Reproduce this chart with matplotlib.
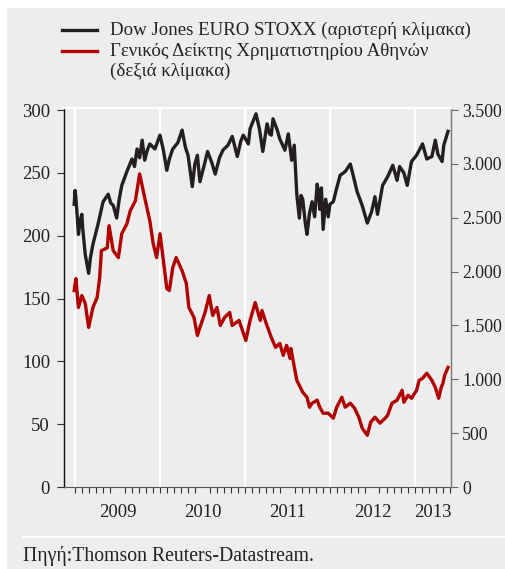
import matplotlib.pyplot as plt
from matplotlib.lines import Line2D
from matplotlib.patches import Rectangle

plt.rcParams['font.family'] = ['Liberation Serif', 'DejaVu Serif']

# Dow Jones EURO STOXX (left scale), dates as decimal years
stoxx_t = [2008.99, 2009.00, 2009.01, 2009.03, 2009.04, 2009.06, 2009.08, 2009.09, 2009.12,
           2009.16, 2009.18, 2009.21, 2009.27, 2009.30, 2009.33, 2009.39, 2009.42, 2009.45,
           2009.49, 2009.52, 2009.55, 2009.61, 2009.67, 2009.70, 2009.73, 2009.76, 2009.79,
           2009.82, 2009.85, 2009.88, 2009.94, 2010.00, 2010.04, 2010.08, 2010.11, 2010.15,
           2010.21, 2010.26, 2010.30, 2010.33, 2010.38, 2010.41, 2010.44, 2010.47, 2010.52,
           2010.56, 2010.61, 2010.65, 2010.70, 2010.74, 2010.80, 2010.85, 2010.91, 2010.95,
           2010.98, 2011.04, 2011.06, 2011.13, 2011.17, 2011.21, 2011.26, 2011.29, 2011.31,
           2011.33, 2011.38, 2011.41, 2011.47, 2011.51, 2011.55, 2011.58, 2011.61, 2011.64,
           2011.66, 2011.68, 2011.71, 2011.73, 2011.76, 2011.79, 2011.82, 2011.85, 2011.87,
           2011.88, 2011.90, 2011.92, 2011.95, 2011.98, 2012.00, 2012.04, 2012.08, 2012.12,
           2012.18, 2012.24, 2012.27, 2012.32, 2012.38, 2012.44, 2012.49, 2012.53, 2012.56,
           2012.62, 2012.68, 2012.74, 2012.79, 2012.82, 2012.87, 2012.91, 2012.96, 2013.02,
           2013.09, 2013.14, 2013.20, 2013.24, 2013.27, 2013.32, 2013.34, 2013.39]
stoxx = [225, 236, 230, 211, 201, 212, 217, 206, 185,
         170, 182, 193, 209, 218, 227, 233, 226, 224,
         214, 229, 240, 251, 261, 255, 269, 262, 276,
         260, 268, 273, 269, 280, 268, 252, 261, 269,
         274, 284, 270, 264, 239, 257, 264, 243, 256,
         267, 258, 249, 262, 268, 272, 279, 263, 275,
         280, 273, 285, 297, 285, 267, 289, 281, 280,
         293, 284, 277, 268, 281, 260, 272, 233, 214,
         232, 229, 210, 201, 218, 227, 215, 241, 232,
         221, 238, 205, 229, 215, 225, 227, 238, 248,
         251, 257, 249, 235, 224, 210, 219, 231, 217,
         240, 247, 256, 244, 255, 250, 240, 259, 264,
         273, 261, 263, 276, 265, 259, 272, 283]

# Athens General Index (right scale)
athex_t = [2008.99, 2009.01, 2009.04, 2009.08, 2009.12, 2009.16, 2009.21, 2009.26, 2009.29,
           2009.31, 2009.38, 2009.40, 2009.45, 2009.51, 2009.55, 2009.61, 2009.65, 2009.71,
           2009.76, 2009.82, 2009.88, 2009.92, 2009.96, 2010.00, 2010.04, 2010.08, 2010.11,
           2010.15, 2010.19, 2010.26, 2010.31, 2010.34, 2010.40, 2010.44, 2010.47, 2010.53,
           2010.58, 2010.62, 2010.67, 2010.71, 2010.76, 2010.82, 2010.85, 2010.93, 2011.01,
           2011.06, 2011.12, 2011.18, 2011.20, 2011.25, 2011.31, 2011.36, 2011.41, 2011.45,
           2011.49, 2011.53, 2011.54, 2011.61, 2011.68, 2011.73, 2011.76, 2011.79, 2011.85,
           2011.88, 2011.92, 2011.98, 2012.04, 2012.08, 2012.14, 2012.18, 2012.24, 2012.29,
           2012.34, 2012.38, 2012.44, 2012.48, 2012.53, 2012.59, 2012.65, 2012.68, 2012.73,
           2012.79, 2012.85, 2012.87, 2012.92, 2012.96, 2013.02, 2013.05, 2013.09, 2013.14,
           2013.20, 2013.24, 2013.28, 2013.31, 2013.33, 2013.35, 2013.39]
athex = [1824, 1935, 1667, 1778, 1704, 1482, 1667, 1759, 1944,
         2194, 2222, 2426, 2194, 2130, 2352, 2444, 2565, 2657,
         2907, 2685, 2472, 2259, 2130, 2352, 2102, 1843, 1824,
         2037, 2130, 2009, 1889, 1667, 1574, 1407, 1482, 1620,
         1778, 1593, 1667, 1500, 1574, 1620, 1500, 1546, 1361,
         1546, 1713, 1546, 1639, 1519, 1389, 1296, 1333, 1222,
         1315, 1194, 1287, 991, 880, 833, 741, 778, 806,
         741, 685, 685, 639, 741, 833, 741, 778, 731,
         648, 546, 481, 602, 648, 593, 639, 667, 778,
         806, 898, 787, 852, 824, 898, 991, 1009, 1056,
         991, 926, 824, 926, 963, 1037, 1111]

years = [2009, 2010, 2011, 2012, 2013]
year_label_pos = [2009.5, 2010.5, 2011.5, 2012.5, 2013.21]
year_labels = ['2009', '2010', '2011', '2012', '2013']
months = [2009 + m / 12 for m in range(0, 54)]

left_ticks = [0, 50, 100, 150, 200, 250, 300]
right_ticks = [0, 500, 1000, 1500, 2000, 2500, 3000, 3500]
right_labels = ['0', '500', '1.000', '1.500', '2.000', '2.500', '3.000', '3.500']

bg = '#ededed'
black = '#231f20'
red = '#b00000'
txt_col = '#222222'

fig = plt.figure(figsize=(5.05, 5.69), dpi=100, facecolor='white')
fig.add_artist(Rectangle((7 / 505, 0), 1 - 7 / 505, 1 - 8 / 569,
                         transform=fig.transFigure, facecolor=bg, edgecolor='none', zorder=0))

ax = fig.add_axes([64 / 505, 1 - 487 / 569, 387 / 505, 379 / 569])
ax.set_facecolor(bg)
ax2 = ax.twinx()

for y in years:
    ax.axvline(y, color='white', lw=1.6, zorder=1)

ax.plot(stoxx_t, stoxx, color=black, lw=2.4, zorder=3)
ax2.plot(athex_t, athex, color=red, lw=2.4, zorder=3)

ax.set_xlim(2008.87, 2013.425)
ax.set_ylim(0, 301.6)
ax2.set_ylim(0, 3519)

ax.set_yticks(left_ticks)
ax.tick_params(axis='y', direction='out', length=5, width=0.8, color='#333333',
               labelsize=13.5, pad=5, labelcolor=txt_col)
ax2.set_yticks(right_ticks)
ax2.set_yticklabels(right_labels)
ax2.tick_params(axis='y', direction='out', length=5, width=0.8, color='#666666',
                labelsize=12.8, pad=3, labelcolor=txt_col)

ax.set_xticks(year_label_pos)
ax.set_xticklabels(year_labels)
ax.set_xticks(months, minor=True)
ax.tick_params(axis='x', which='major', length=0, pad=12, labelsize=13.5, labelcolor=txt_col)
ax.tick_params(axis='x', which='minor', direction='out', length=4, width=0.8, color='#333333')

for a in (ax, ax2):
    a.spines['top'].set_color('white')
    a.spines['top'].set_linewidth(1.6)
ax.spines['left'].set_color('#111111')
ax.spines['left'].set_linewidth(1.0)
ax.spines['right'].set_visible(False)
ax.spines['bottom'].set_color('#555555')
ax.spines['bottom'].set_linewidth(0.8)
ax2.spines['left'].set_visible(False)
ax2.spines['bottom'].set_visible(False)
ax2.spines['right'].set_color('#777777')
ax2.spines['right'].set_linewidth(1.0)


def px(x, y):
    return x / 505, 1 - y / 569


# legend drawn by hand so the red key sits on the first text line
fig.add_artist(Line2D([px(62, 0)[0], px(97, 0)[0]], [px(0, 30)[1]] * 2,
                      color=black, lw=2.4, transform=fig.transFigure))
fig.add_artist(Line2D([px(62, 0)[0], px(97, 0)[0]], [px(0, 51)[1]] * 2,
                      color=red, lw=2.4, transform=fig.transFigure))
legend_lines = ['Dow Jones EURO STOXX (αριστερή κλίμακα)',
                'Γενικός Δείκτης Χρηματιστηρίου Αθηνών',
                '(δεξιά κλίμακα)']
for i, txt in enumerate(legend_lines):
    fig.text(*px(110, 35 + 20.5 * i), txt, fontsize=13.6, color=txt_col, va='baseline')

# source note with white separator
fig.add_artist(Line2D([23 / 505, 1], [1 - 537 / 569] * 2, color='white', lw=1.6,
                      transform=fig.transFigure))
fig.text(*px(23, 561), 'Πηγή:Thomson Reuters-Datastream.', fontsize=14.2,
         color=txt_col, va='baseline')

fig.savefig('out.png', dpi=100, facecolor=fig.get_facecolor())
